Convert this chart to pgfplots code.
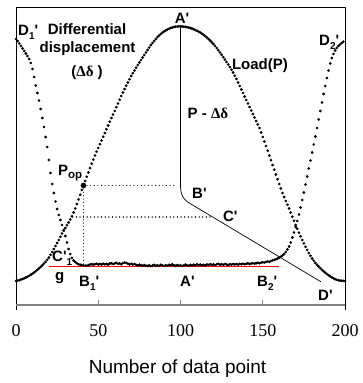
\documentclass[border=0pt]{standalone}
\usepackage{fontspec}
\setmainfont{Liberation Sans}
\newfontfamily\tnr{Liberation Serif}
\usepackage{pgfplots}
\pgfplotsset{compat=1.18}
\usepackage{pgfplotstable}
\definecolor{axgray}{RGB}{128,128,128}
\newcommand\lab{\fontsize{15}{15}\selectfont\bfseries}
\newcommand\sub[1]{\raisebox{-0.25em}{\fontsize{10}{10}\selectfont\bfseries #1}}
\newcommand\pr{\textquotesingle}

\pgfplotstableread{
x L D
0 24 266
1 24.4 264
2 24.8 261.5
3 25.4 259
4 26 256.5
5 26.7 254
6 27.5 251.5
7 28.3 249
8 29.2 246
9 30.2 242
10 31.3 236
11 32.5 228
12 33.8 219.5
13 35.2 212
14 36.6 204.5
15 38.1 196
16 39.7 187
17 41.4 178
18 43.2 168
19 45.3 158
20 47.5 145
21 50.2 132
22 53 121
23 56 112
24 59 103.5
25 62 96
26 65 90
27 68.2 85
28 71.5 80
29 74.3 75
30 77 69
31 79.8 62.5
32 82.5 56
33 85.5 51
34 88.7 47
35 92.5 44.5
36 96.5 43
37 101 41.8
38 105.5 40.8
39 110.2 40.3
40 115 40
41 119.5 39.6
42 124 39.4
43 128.3 39.2
44 132.5 39.8
45 136.9 40.5
46 141.3 40.9
47 145.4 40.3
48 149.5 40.8
49 153.3 41.2
50 157 40.6
51 160.8 41.0
52 164.5 40.4
53 168.3 41.3
54 172 40.7
55 175.8 41.1
56 179.5 40.5
57 183.3 41.4
58 187 41.8
59 190.5 41.0
60 194 41.5
61 197.8 42.2
62 201.5 41.3
63 205.3 41.6
64 209 40.8
65 212.5 41.9
66 216 42.6
67 219.3 42.0
68 222.5 41.4
69 225.8 40.6
70 229 41.2
71 231.8 40.5
72 234.5 41.0
73 237.3 40.2
74 240 39.6
75 242.5 40.4
76 245 39.8
77 247.5 39.2
78 250 39.9
79 252.5 39.3
80 255 39.0
81 257.5 39.7
82 260 38.9
83 262 39.5
84 264 40.1
85 266 39.3
86 268 39.8
87 269.5 39.1
88 271 40.2
89 272.3 39.5
90 273.5 39.0
91 274.5 39.8
92 275.5 39.2
93 276.3 40.3
94 277 39.6
95 277.5 40.6
96 278 39.7
97 278.3 39.1
98 278.5 40.0
99 278.6 39.4
100 278.6 39.8
101 278.5 39.1
102 278.3 39.6
103 278.1 40.4
104 277.8 39.7
105 277.4 39.2
106 277 40.1
107 276.4 39.5
108 275.8 40.3
109 275 39.8
110 274.2 40.7
111 273.4 39.9
112 272.5 40.5
113 271.4 39.6
114 270.2 40.2
115 268.9 39.5
116 267.5 40.6
117 266 40.0
118 264.5 40.8
119 262.8 40.1
120 261 40.6
121 259 39.9
122 257 40.7
123 254.8 41.2
124 252.5 40.4
125 250.2 40.9
126 247.8 40.2
127 245.4 41.0
128 243 40.5
129 240.5 40.1
130 238 40.8
131 235.3 40.3
132 232.5 41.0
133 229.3 40.6
134 226 40.9
135 222.5 40.4
136 219 41.1
137 215.5 40.7
138 212 41.3
139 208.5 40.8
140 205 41.2
141 201.5 41.6
142 198 41.0
143 194.5 41.5
144 191 41.9
145 187.5 41.2
146 184 41.8
147 180.5 42.3
148 177 41.7
149 172.5 42.4
150 168 42.8
151 163.5 42.4
152 159 43.1
153 154.3 43.5
154 149.5 43.2
155 144.8 44.0
156 140 44.6
157 135.3 45.1
158 130.5 45.7
159 125.8 46.4
160 121 47.3
161 116.5 48.3
162 112 49.5
163 108 51
164 104 53
165 100.3 55.5
166 96.5 58.5
167 92.4 62.5
168 88.3 67.5
169 84.2 72.5
170 80 78
171 76.2 84
172 72.3 90.5
173 68.7 97.5
174 65 105
175 61.6 112.5
176 58.2 120.5
177 55.1 128.5
178 52 136.5
179 49.2 144.5
180 46.5 152.5
181 44.2 160.5
182 42 168.5
183 40.2 177
184 38.5 185.5
185 36.8 194
186 35.2 202.5
187 33.7 211
188 32.3 219
189 31 227
190 29.8 234.5
191 28.7 241.5
192 27.6 247
193 26.7 251
194 25.8 254.5
195 25.2 257
196 24.7 259
197 24.4 260.5
198 24.2 262
199 24.1 263.3
200 24 nan
}\datatable

\begin{document}
\begin{tikzpicture}
\path[use as bounding box] (0,0) rectangle (363pt,383pt);
\begin{axis}[
  at={(16pt,78pt)}, anchor=south west,
  scale only axis, width=329pt, height=298pt,
  xmin=0, xmax=200, ymin=0, ymax=298,
  axis line style={draw=none},
  ytick=\empty,
  xtick={0,50,100,150,200},
  xticklabels={0,50,100,150,200},
  xtick pos=bottom,
  tick align=inside,
  major tick length=5pt,
  xtick style={draw=axgray, line width=1pt},
  xticklabel style={font=\tnr\fontsize{18}{18}\selectfont, anchor=base, yshift=-31.7pt},
  clip=false,
]
% frame
\draw[black, line width=0.8pt] ([yshift=-5pt]rel axis cs:0,0) -- (rel axis cs:0,1) -- (rel axis cs:1,1) -- ([yshift=-5pt]rel axis cs:1,0);
\draw[axgray, line width=2pt] (rel axis cs:0,0) -- (rel axis cs:1,0);

% dotted guide lines
\addplot[black, line width=1.2pt, line cap=round, dash pattern=on 0.01pt off 3.6pt] coordinates {(41,119.5) (98,119.5)};
\addplot[black, line width=1.2pt, line cap=round, dash pattern=on 0.01pt off 3.4pt] coordinates {(41,119.5) (41,41)};
\addplot[black, line width=1.2pt, line cap=round, dash pattern=on 0.01pt off 3.6pt] coordinates {(34.5,88) (118,88)};

% P - delta line
\addplot[black, line width=0.7pt] coordinates {(100,279) (100,118) (100.2,114.5) (100.7,111) (101.5,108) (102.6,105.5) (104,103.3) (105.5,101.8) (185.3,23.3)};

% Load and differential displacement
\addplot[only marks, mark=*, mark size=1.15pt, mark options={draw=none, fill=black}] table[x=x, y=L]{\datatable};
\addplot[only marks, mark=*, mark size=1.15pt, mark options={draw=none, fill=black}] table[x=x, y=D]{\datatable};

% baseline
\addplot[red, line width=0.9pt] coordinates {(20,38.6) (160,38.6)};

% P_op
\addplot[only marks, mark=*, mark size=2.6pt, black] coordinates {(41,119.5)};

% labels
\node[anchor=base, inner sep=0, font=\lab] at (axis cs:43.2,270) {Differential};
\node[anchor=base, inner sep=0, font=\lab] at (axis cs:43.5,252) {displacement};
\node[anchor=base, inner sep=0, font=\lab] at (axis cs:43.2,228.8) {({\tnr\bfseries Δδ} )};
\node[anchor=base west, inner sep=0, font=\lab] at (axis cs:1.2,269.5) {D\sub{1}\pr};
\node[anchor=base, inner sep=0, font=\lab] at (axis cs:100.9,281.7) {A\pr};
\node[anchor=base, inner sep=0, font=\lab] at (axis cs:148.3,235) {Load(P)};
\node[anchor=base, inner sep=0, font=\lab] at (axis cs:116.7,186.7) {P - {\tnr\bfseries Δδ}};
\node[anchor=base west, inner sep=0, font=\lab] at (axis cs:107,106) {B\pr};
\node[anchor=base west, inner sep=0, font=\lab] at (axis cs:125.8,83) {C\pr};
\node[anchor=base west, inner sep=0, font=\lab] at (axis cs:25.5,129) {P\raisebox{-0.2em}{\fontsize{11.5}{11.5}\selectfont\bfseries op}};
\node[anchor=base west, inner sep=0, font=\lab] at (axis cs:21.9,43) {C\pr\sub{1}};
\node[anchor=base west, inner sep=0, font=\lab] at (axis cs:23.7,24) {g};
\node[anchor=base west, inner sep=0, font=\lab] at (axis cs:38.3,18) {B\sub{1}\pr};
\node[anchor=base west, inner sep=0, font=\lab] at (axis cs:99.7,18) {A\pr};
\node[anchor=base west, inner sep=0, font=\lab] at (axis cs:146.5,18) {B\sub{2}\pr};
\node[anchor=base west, inner sep=0, font=\lab] at (axis cs:183.6,5) {D\pr};
\node[anchor=base west, inner sep=0, font=\lab] at (axis cs:184.2,259) {D\sub{2}\pr};
\node[anchor=base, inner sep=0, font=\fontsize{19}{19}\selectfont] at (axis cs:98.2,-68.3) {Number of data point};
\end{axis}
\end{tikzpicture}
\end{document}
